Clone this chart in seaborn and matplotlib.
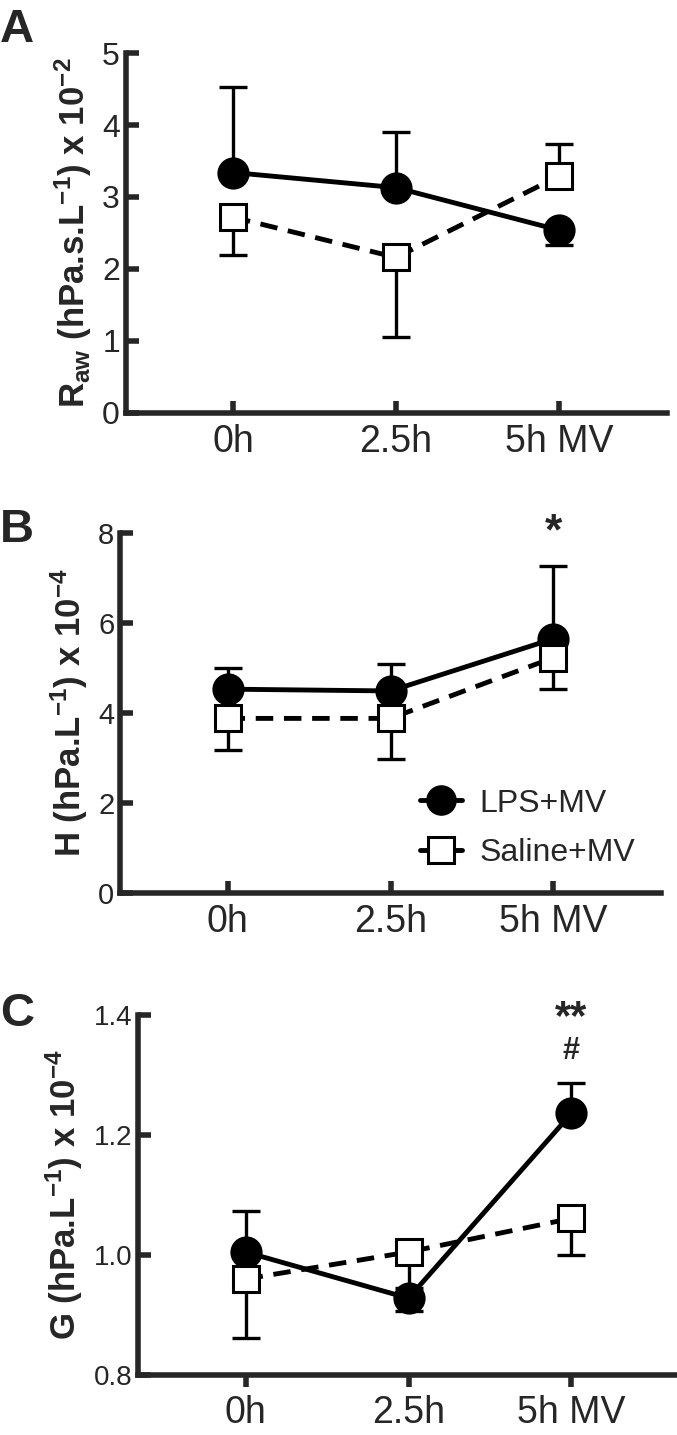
import numpy as np
import pandas as pd
import matplotlib
matplotlib.use("Agg")
import matplotlib.pyplot as plt
from matplotlib.lines import Line2D
import seaborn as sns

# ===== DATA =====
time_labels = ["0h", "2.5h", "5h MV"]
time_pos = [0, 1, 2]

raw_lps = [3.34, 3.13, 2.54]
raw_lps_bar = [4.53, 3.90, 2.34]   # end of the one-sided error bar
raw_sal = [2.72, 2.16, 3.29]
raw_sal_bar = [2.20, 1.05, 3.73]

h_lps = [4.53, 4.49, 5.65]
h_lps_bar = [5.01, 5.08, 7.27]
h_sal = [3.88, 3.88, 5.23]
h_sal_bar = [3.18, 2.98, 4.53]

g_lps = [1.005, 0.928, 1.236]
g_lps_bar = [1.074, 0.906, 1.287]
g_sal = [0.960, 1.005, 1.061]
g_sal_bar = [0.862, 0.945, 1.000]

sns.set_theme(style="ticks")
plt.rcParams['font.family'] = ['Liberation Sans', 'DejaVu Sans']
plt.rcParams['mathtext.fontset'] = 'custom'
plt.rcParams['mathtext.rm'] = 'Liberation Sans'
plt.rcParams['mathtext.bf'] = 'Liberation Sans:bold'
plt.rcParams['mathtext.it'] = 'Liberation Sans:italic'

fig = plt.figure(figsize=(6.77, 14.35), dpi=100)

W, H = 677, 1435


def make_ax(left_px, bottom_px, width_px=541, height_px=360):
    return fig.add_axes([left_px / W, 1 - bottom_px / H, width_px / W, height_px / H])


def draw_series(ax, y, bar_end, marker, dashed, z):
    y = np.array(y)
    bar_end = np.array(bar_end)
    lower = np.where(bar_end < y, y - bar_end, 0)
    upper = np.where(bar_end > y, bar_end - y, 0)
    ax.errorbar(time_pos, y, yerr=[lower, upper], fmt='none', ecolor='black',
                elinewidth=2.4, capsize=10, capthick=2.4, zorder=1)
    df = pd.DataFrame({"t": time_pos, "v": y})
    sns.lineplot(data=df, x="t", y="v", ax=ax, color='black', lw=3.5,
                 linestyle=(0, (3.6, 2.2)) if dashed else '-',
                 marker=marker, markersize=21 if marker == 'o' else 18.5,
                 markerfacecolor='black' if marker == 'o' else 'white',
                 markeredgecolor='black', markeredgewidth=2.2, zorder=z)


def style_ax(ax, ylim, yticks, ytl, ylabel, ysize, xdir):
    ax.set_xlim(-0.66, 2.66)
    ax.set_ylim(*ylim)
    ax.set_xticks(time_pos)
    ax.set_xticklabels(time_labels, fontsize=27)
    ax.set_yticks(yticks)
    ax.set_yticklabels(ytl, fontsize=ysize)
    sns.despine(ax=ax)
    for s in ['left', 'bottom']:
        ax.spines[s].set_linewidth(4)
        ax.spines[s].set_capstyle('projecting')
    ax.tick_params(axis='y', direction='in', length=9, width=4, pad=4)
    ax.tick_params(axis='x', direction=xdir, length=8.5, width=4,
                   pad=8 if xdir == 'in' else 6)
    ax.set_xlabel("")
    ax.set_ylabel(ylabel, fontsize=25, fontweight='bold', labelpad=6)
    ax.patch.set_alpha(0)


# ===== A =====
axA = make_ax(125.5, 413)
draw_series(axA, raw_lps, raw_lps_bar, 'o', False, 3)
draw_series(axA, raw_sal, raw_sal_bar, 's', True, 4)
style_ax(axA, (0, 5), [0, 1, 2, 3, 4, 5], ["0", "1", "2", "3", "4", "5"],
         r"$\mathbf{R_{aw}}$ (hPa.s.L$^{\mathbf{-1}}$) x 10$^{\mathbf{-2}}$", 23, 'in')

# ===== B =====
axB = make_ax(120, 893)
draw_series(axB, h_lps, h_lps_bar, 'o', False, 3)
draw_series(axB, h_sal, h_sal_bar, 's', True, 4)
style_ax(axB, (0, 8), [0, 2, 4, 6, 8], ["0", "2", "4", "6", "8"],
         r"H (hPa.L$^{\mathbf{-1}}$) x 10$^{\mathbf{-4}}$", 21, 'in')
axB.text(2, 8.0, "*", ha='center', va='center', fontsize=32, fontweight='bold')
handles = [
    Line2D([], [], color='black', lw=3.5, marker='o', markersize=21,
           markerfacecolor='black', markeredgecolor='black'),
    Line2D([], [], color='black', lw=3.5, marker='s', markersize=18.5,
           markerfacecolor='white', markeredgecolor='black', markeredgewidth=2.2),
]
axB.legend(handles, ["LPS+MV", "Saline+MV"], loc='upper left',
           bbox_to_anchor=(0.555, 0.29), frameon=False, fontsize=23,
           handlelength=1.3, handletextpad=0.55, labelspacing=0.6,
           borderpad=0, borderaxespad=0)

# ===== C =====
axC = make_ax(138, 1375)
draw_series(axC, g_lps, g_lps_bar, 'o', False, 3)
draw_series(axC, g_sal, g_sal_bar, 's', True, 4)
style_ax(axC, (0.8, 1.4), [0.8, 1.0, 1.2, 1.4], ["0.8", "1.0", "1.2", "1.4"],
         r"G (hPa.L$^{\mathbf{-1}}$) x 10$^{\mathbf{-4}}$", 20, 'out')
axC.text(2, 1.395, "**", ha='center', va='center', fontsize=30, fontweight='bold')
axC.text(2, 1.340, "#", ha='center', va='center', fontsize=22, fontweight='bold')

# ===== panel letters =====
for letter, ytop in [("A", 8), ("B", 508), ("C", 992)]:
    fig.text(0, 1 - ytop / H, letter, fontsize=34, fontweight='bold',
             ha='left', va='top')

plt.savefig("out.png", dpi=100)
plt.close()
